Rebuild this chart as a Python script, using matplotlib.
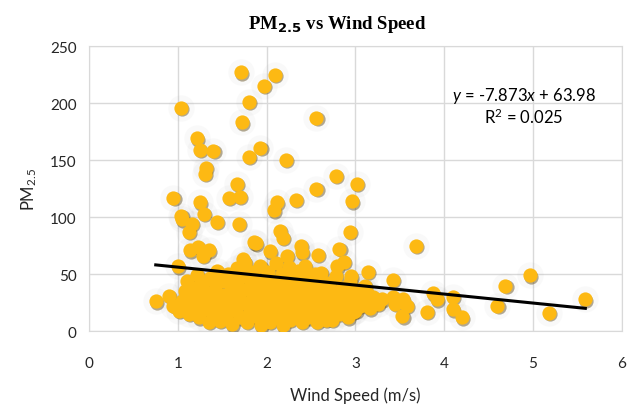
import matplotlib
matplotlib.use("Agg")
import matplotlib.pyplot as plt
import matplotlib.transforms as mtransforms
import numpy as np

# scattered high values
wind_out = [1.71, 2.09, 1.97, 1.80, 1.03, 1.72, 2.56, 1.21, 1.25, 1.40, 1.93, 1.80,
            2.22, 1.32, 1.30, 1.66, 1.70, 1.57, 0.95, 1.25, 2.12, 2.08, 2.33, 2.56,
            2.78, 3.02, 2.96, 1.29, 1.04, 1.05, 1.16, 1.12, 1.44, 1.69, 1.14, 1.23,
            1.35, 1.28, 1.00, 1.86, 2.15, 2.18, 2.94, 1.88, 2.04, 2.39, 2.40, 2.23,
            2.58, 2.82, 2.87, 2.79, 2.61, 3.14, 2.95, 3.42, 1.73, 2.43, 3.68]
pm_out = [227, 225, 215, 201, 196, 183, 187, 169, 159, 158, 161, 153,
          150, 143, 138, 129, 118, 117, 117, 113, 113, 106, 115, 125,
          136, 129, 114, 103, 101, 98, 94, 87, 96, 94, 71, 74,
          71, 66, 57, 78, 88, 82, 87, 77, 70, 75, 69, 66,
          67, 72, 61, 57, 51, 52, 48, 45, 63, 57, 75]

# low wind / right tail
wind_tail = [0.75, 0.90, 0.95, 1.01, 1.08, 4.97, 4.69, 5.59, 5.18, 4.60, 4.20, 4.10,
             4.10, 3.87, 3.92, 3.81, 3.54, 3.42, 3.53, 3.45, 3.58, 3.19, 3.11, 2.97, 2.67]
pm_tail = [26, 31, 22, 18, 22, 49, 40, 28, 16, 22, 12, 19,
           30, 33, 28, 17, 28, 30, 13, 24, 22, 28, 40, 17, 10]

# dense cluster below ~60
wind_low = [1.05, 1.08, 1.10, 1.12, 1.15, 1.17, 1.20, 1.22, 1.24, 1.26, 1.28, 1.30,
            1.32, 1.35, 1.36, 1.38, 1.40, 1.42, 1.44, 1.45, 1.47, 1.49, 1.50,
            1.52, 1.54, 1.56, 1.58, 1.60, 1.61, 1.63, 1.65, 1.66, 1.68, 1.70, 1.71,
            1.73, 1.75, 1.76, 1.78, 1.80, 1.81, 1.83, 1.85, 1.86, 1.88, 1.90, 1.91,
            1.93, 1.94, 1.96, 1.98, 2.00, 2.00,
            2.02, 2.04, 2.05, 2.07, 2.09, 2.10, 2.12, 2.13, 2.15, 2.17, 2.18, 2.20,
            2.21, 2.23, 2.25, 2.26, 2.28, 2.30, 2.31, 2.33, 2.35, 2.37, 2.38, 2.40,
            2.42, 2.44, 2.45, 2.47, 2.49,
            2.51, 2.53, 2.55, 2.57, 2.59, 2.61, 2.63, 2.65, 2.68, 2.70, 2.72, 2.74,
            2.76, 2.78, 2.80, 2.82, 2.85, 2.87, 2.89, 2.92, 2.94, 2.96, 2.98, 3.00,
            3.03, 3.05, 3.08, 3.10, 3.13, 3.16, 3.20, 3.25, 3.30,
            1.43, 1.53, 1.62, 1.72, 1.82, 1.92, 2.03, 2.14, 2.24, 2.34, 2.44, 2.54,
            2.64, 2.06, 1.86, 1.66, 2.36, 2.56, 2.16, 1.96]
pm_low = [26, 35, 44, 15, 30, 22, 38, 49, 12, 27, 42, 19,
          33, 8, 47, 25, 15, 37, 53, 28, 9, 20, 44,
          32, 14, 50, 24, 40, 6, 30, 18, 55, 45, 12, 35,
          25, 60, 48, 8, 38, 18, 28, 52, 42, 13, 33, 22,
          57, 5, 45, 27, 37, 15,
          52, 8, 30, 20, 43, 60, 12, 35, 25, 50, 5, 40,
          17, 29, 56, 10, 46, 22, 35, 14, 53, 28, 42, 8,
          19, 33, 48, 12, 25,
          40, 18, 30, 8, 45, 23, 35, 14, 28, 42, 20, 10,
          33, 48, 25, 15, 38, 22, 30, 12, 43, 26, 35, 18,
          30, 22, 38, 26, 33, 20, 30, 24, 28,
          30, 22, 35, 50, 35, 40, 23, 45, 32, 45, 22, 50,
          40, 40, 20, 25, 18, 26, 15, 10]

wind = np.array(wind_out + wind_tail + wind_low)
pm = np.array(pm_out + pm_tail + pm_low)

slope = -7.873
intercept = 63.98

plt.rcParams["mathtext.fontset"] = "custom"
plt.rcParams["mathtext.it"] = "Lato:italic"
plt.rcParams["mathtext.rm"] = "Lato"

fig = plt.figure(figsize=(6.28, 4.06), dpi=100)
ax = fig.add_axes([0.142, 0.182, 0.848, 0.702])

gold = "#FDB913"
# soft glow + drop shadow behind markers, like the Excel styling
ax.scatter(wind, pm, s=360, color="#9a9a9a", alpha=0.06, linewidths=0, zorder=2)
shadow = mtransforms.offset_copy(ax.transData, fig=fig, x=0.8, y=-1.0, units="points")
ax.scatter(wind, pm, s=105, color="#5a4510", alpha=0.45, linewidths=0,
           transform=shadow, zorder=3)
ax.scatter(wind, pm, s=105, color=gold, linewidths=0, zorder=4)

xs = np.array([wind.min(), wind.max()])
ax.plot(xs, slope * xs + intercept, color="black", lw=2.2, zorder=5)

ax.set_xlim(0, 6)
ax.set_ylim(0, 250)
ax.set_xticks(range(0, 7))
ax.set_yticks(range(0, 251, 50))
ax.grid(True, color="#d9d9d9", lw=1)
ax.set_axisbelow(True)
for s in ax.spines.values():
    s.set_color("#d9d9d9")
ax.tick_params(length=0, labelsize=11, pad=9, colors="#262626")
for lab in ax.get_xticklabels() + ax.get_yticklabels():
    lab.set_family("Lato")
ax.tick_params(axis="x", pad=18)

ax.set_xlabel("Wind Speed (m/s)", family="Lato", fontsize=12, color="#262626", labelpad=12)
ax.set_ylabel("PM$_{2.5}$", family="Lato", fontsize=12, color="#262626", labelpad=8)

fig.text(0.537, 0.94, r"PM$_{\mathbf{2.5}}$ vs Wind Speed", family="Liberation Serif",
         fontweight="bold", fontsize=13.5, ha="center", va="center")
ax.text(4.9, 207, r"$\it{y}$ = -7.873$\it{x}$ + 63.98", family="Lato", fontsize=12,
        ha="center", va="center", zorder=6)
ax.text(4.9, 188, "R$^2$ = 0.025", family="Lato", fontsize=12,
        ha="center", va="center", zorder=6)

fig.savefig("out.png", dpi=100)
